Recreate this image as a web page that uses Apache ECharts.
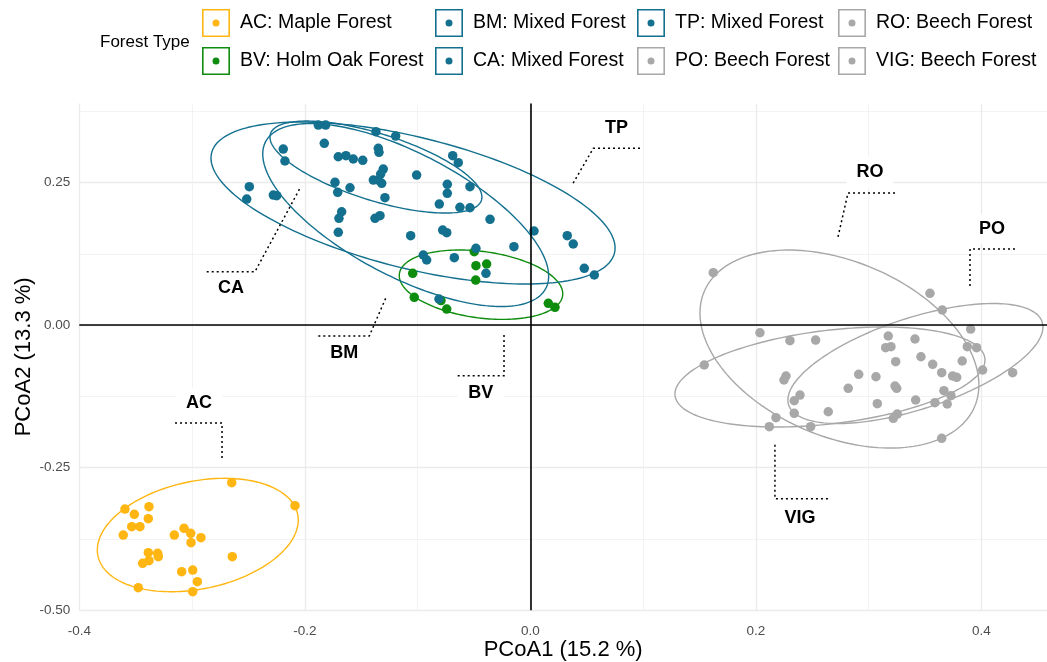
<!DOCTYPE html>
<html><head><meta charset="utf-8">
<script src="https://cdn.jsdelivr.net/npm/echarts@6/dist/echarts.min.js"></script>
<style>html,body{margin:0;padding:0;background:#fff}#c{width:1047px;height:662px}</style>
</head><body><div id="c"></div>
<script>
// ---------- data (PCoA1, PCoA2) ----------
const AC = [[-0.2648,-0.2763],[-0.2087,-0.3167],[-0.3595,-0.3225],[-0.3382,-0.3184],[-0.3512,-0.3318],[-0.3388,-0.3395],[-0.3535,-0.3535],[-0.3462,-0.3535],[-0.3610,-0.3681],[-0.3157,-0.3681],[-0.3071,-0.3563],[-0.3012,-0.3651],[-0.2921,-0.3728],[-0.3009,-0.3816],[-0.3388,-0.3991],[-0.3305,-0.4002],[-0.3299,-0.4061],[-0.3382,-0.4132],[-0.3438,-0.4177],[-0.2643,-0.4061],[-0.3092,-0.4325],[-0.2994,-0.4295],[-0.2953,-0.4500],[-0.3477,-0.4605],[-0.2994,-0.4675]];
const BV = [[-0.0497,0.1289],[-0.0482,0.1044],[-0.0387,0.1074],[-0.0484,0.0793],[-0.1043,0.0911],[-0.1029,0.0489],[-0.0792,0.0433],[-0.0741,0.0284],[0.0160,0.0384],[0.0219,0.0314]];
const CA = [[-0.1369,0.3395],[-0.1194,0.3319],[-0.1827,0.3191],[-0.1348,0.3104],[-0.1342,0.3033],[-0.1703,0.2956],[-0.1635,0.2974],[-0.1570,0.2916],[-0.1486,0.2893],[-0.0688,0.2974],[-0.0639,0.2851],[-0.1304,0.2740],[-0.1327,0.2653],[-0.1008,0.2635],[-0.1392,0.2547],[-0.1348,0.2547],[-0.1732,0.2507],[-0.0736,0.2472],[-0.0535,0.2430],[-0.0736,0.2314],[-0.0624,0.2068]];
const BM = [[-0.1880,0.3512],[-0.1815,0.3512],[-0.2191,0.3091],[-0.2176,0.2881],[-0.1318,0.2489],[-0.1599,0.2412],[-0.1708,0.2332],[-0.2279,0.2284],[-0.2249,0.2272],[-0.1289,0.2237],[-0.1673,0.1991],[-0.1697,0.1875],[-0.1377,0.1875],[-0.1333,0.1921],[-0.1703,0.1630],[-0.1061,0.1570],[-0.0482,0.1349],[-0.0949,0.1232],[-0.0919,0.1144],[-0.0674,0.1184],[-0.0393,0.0911],[-0.0810,0.0460]];
const TP = [[-0.2492,0.2430],[-0.2515,0.2214],[-0.0807,0.2126],[-0.0535,0.2061],[-0.0357,0.1858],[-0.0777,0.1670],[-0.0741,0.1623],[0.0033,0.1653],[0.0328,0.1570],[0.0381,0.1425],[-0.0145,0.1377],[0.0479,0.0998],[0.0568,0.0881]];
const RO = [[0.1623,0.0921],[0.3545,0.0560],[0.3654,0.0267],[0.3906,-0.0067],[0.3649,-0.1984],[0.2120,-0.1781],[0.2179,-0.1623],[0.3152,-0.0395],[0.3199,-0.0377],[0.3241,-0.0640],[0.2913,-0.0861],[0.2820,-0.1107],[0.3418,-0.1312],[0.3078,-0.1377],[0.3255,-0.1558],[0.3220,-0.1633]];
const PO = [[0.3876,-0.0377],[0.3959,-0.0395],[0.3831,-0.0628],[0.4012,-0.0786],[0.4278,-0.0833],[0.3569,-0.0686],[0.3465,-0.0553],[0.3649,-0.0833],[0.3746,-0.0891],[0.3782,-0.0914],[0.3669,-0.1149],[0.3731,-0.1237],[0.3698,-0.1382],[0.3589,-0.1360],[0.3412,-0.0242],[0.3175,-0.0189]];
const VIG = [[0.2037,-0.0132],[0.2303,-0.0272],[0.2531,-0.0260],[0.1543,-0.0698],[0.2268,-0.0891],[0.2250,-0.0961],[0.3066,-0.0904],[0.3235,-0.1067],[0.3250,-0.1107],[0.2392,-0.1225],[0.2341,-0.1325],[0.2341,-0.1546],[0.2643,-0.1518],[0.2487,-0.1781]];

// ellipse: [centre x, centre y, half-width, half-height, y-offset of rightmost point]
const ellipseAC  = [-0.2949,-0.3681,0.0891,0.0995, 0.0263];
const ellipseBV  = [-0.0437, 0.0711,0.0725,0.0609,-0.0160];
const ellipseCA  = [-0.1369, 0.2775,0.0940,0.0807,-0.0526];
const ellipseBM  = [-0.1105, 0.1933,0.1268,0.1605,-0.1070];
const ellipseTP  = [-0.1040, 0.2144,0.1792,0.1421,-0.0789];
const ellipseRO  = [ 0.2742,-0.0418,0.1237,0.1737,-0.0632];
const ellipsePO  = [ 0.3416,-0.0672,0.1131,0.1053, 0.0640];
const ellipseVIG = [ 0.2658,-0.0909,0.1375,0.0877, 0.0298];

const groupCodes  = ['AC','BV','BM','CA','TP','PO','RO','VIG'];
const groupLabels = ['AC: Maple Forest','BV: Holm Oak Forest','BM: Mixed Forest','CA: Mixed Forest','TP: Mixed Forest','PO: Beech Forest','RO: Beech Forest','VIG: Beech Forest'];
const groupPoints = [AC,BV,BM,CA,TP,PO,RO,VIG];
const groupEllipses = [ellipseAC,ellipseBV,ellipseBM,ellipseCA,ellipseTP,ellipsePO,ellipseRO,ellipseVIG];

// group labels with elbow leader lines
const annoNames = ['TP','CA','BM','BV','AC','RO','PO','VIG'];
const annoPos = [[0.0765,0.3454],[-0.2655,0.0647],[-0.1650,-0.0493],[-0.0440,-0.1184],[-0.2938,-0.1365],[0.3013,0.2688],[0.4095,0.1688],[0.2392,-0.3382]];
const annoSegments = [
  [[0.0973,0.3104],[0.0559,0.3104],[0.0376,0.2477]],
  [[-0.2870,0.0939],[-0.2442,0.0939],[-0.2043,0.2402]],
  [[-0.1880,-0.0189],[-0.1428,-0.0189],[-0.1274,0.0512]],
  [[-0.0644,-0.0886],[-0.0233,-0.0886],[-0.0233,-0.0172]],
  [[-0.3151,-0.1716],[-0.2734,-0.1716],[-0.2734,-0.2365]],
  [[0.3235,0.2320],[0.2818,0.2320],[0.2729,0.1547]],
  [[0.4299,0.1337],[0.3900,0.1337],[0.3900,0.0653]],
  [[0.2640,-0.3046],[0.2170,-0.3046],[0.2170,-0.2067]]
];

const xTickLabels = ['-0.4','-0.2','0.0','0.2','0.4'];
const yTickLabels = ['-0.50','-0.25','0.00','0.25'];

// ---------- styling ----------
const FONT = "'Liberation Sans', Arial, sans-serif";
const groupColors = ['#FFB612','#0E8C0E','#14708F','#14708F','#14708F','#A8A8A8','#A8A8A8','#A8A8A8'];
const KEY_ICON = 'path://M0,0H28V28H0Z M1.6,1.6V26.4H26.4V1.6Z M10.5,14a3.5,3.5 0 1,0 7,0a3.5,3.5 0 1,0 -7,0Z';

const chart = echarts.init(document.getElementById('c'), null, {renderer:'canvas'});

function ellipseRender(color){
  return function(params, api){
    const cx=api.value(0), cy=api.value(1), rx=api.value(2), ry=api.value(3), ky=api.value(4);
    const m = Math.sqrt(Math.max(ry*ry-ky*ky,0));
    const pts=[];
    const N=180;
    for(let i=0;i<=N;i++){
      const t=2*Math.PI*i/N;
      pts.push(api.coord([cx+rx*Math.cos(t), cy+ky*Math.cos(t)+m*Math.sin(t)]));
    }
    return {type:'polyline', shape:{points:pts}, style:{fill:null, stroke:color, lineWidth:1.4}};
  };
}

const series=[];
groupLabels.forEach((lab,i)=>{
  series.push({
    type:'scatter', name:lab, data:groupPoints[i], symbolSize:9.5, z:4,
    itemStyle:{color:groupColors[i], opacity:1}, emphasis:{disabled:true}
  });
});
groupLabels.forEach((lab,i)=>{
  series.push({
    type:'custom', name:lab, data:[groupEllipses[i]], z:3, silent:true,
    itemStyle:{color:groupColors[i]},
    renderItem: ellipseRender(groupColors[i])
  });
});
// zero reference lines
series.push({
  type:'line', data:[], silent:true, z:2,
  markLine:{silent:true, symbol:['none','none'], label:{show:false}, animation:false,
    lineStyle:{color:'#000', width:1.6, type:'solid'}, emphasis:{disabled:true},
    data:[{xAxis:0},{yAxis:0}]}
});
// labels
series.push({
  type:'custom', data:annoPos, z:5, silent:true,
  renderItem:function(params, api){
    const idx=params.dataIndex;
    const seg=annoSegments[idx].map(p=>api.coord(p));
    const c=api.coord([api.value(0),api.value(1)]);
    return {type:'group', children:[
      {type:'polyline', shape:{points:seg}, style:{fill:null, stroke:'#000', lineWidth:1.5, lineDash:[2,3]}},
      {type:'text', x:c[0], y:c[1], style:{text:annoNames[idx], fill:'#000', fontSize:18, fontWeight:'bold', fontFamily:FONT,
        align:'center', verticalAlign:'middle', backgroundColor:'#fff', padding:[6,10], borderRadius:3}}
    ]};
  }
});

function legendCol(left, names){
  return {left:left, top:9, orient:'vertical', itemGap:10, itemWidth:28, itemHeight:28, padding:0,
    selectedMode:false, icon:KEY_ICON,
    textStyle:{fontSize:19.5, color:'#000', fontFamily:FONT, padding:[0,0,0,5]},
    data:names.map(n=>({name:n, icon:KEY_ICON}))};
}

chart.setOption({
  animation:false,
  backgroundColor:'#fff',
  grid:{left:79.3, right:0, top:103.5, bottom:51.8, containLabel:false, outerBoundsMode:'none'},
  graphic:[{type:'text', left:100, top:34, style:{text:'Forest Type', fontSize:17, fill:'#000', fontFamily:FONT}}],
  legend:[
    legendCol(202,[groupLabels[0],groupLabels[1]]),
    legendCol(435,[groupLabels[2],groupLabels[3]]),
    legendCol(637,[groupLabels[4],groupLabels[5]]),
    legendCol(838,[groupLabels[6],groupLabels[7]])
  ],
  xAxis:{type:'value', min:-0.4, max:0.4583, interval:0.2,
    axisLine:{show:false, onZero:false}, axisTick:{show:false},
    axisLabel:{color:'#4D4D4D', fontSize:13.5, fontFamily:FONT, margin:14, showMaxLabel:false,
      formatter:v=>{const k=Math.round((v+0.4)/0.2); return xTickLabels[k]||'';}},
    splitLine:{show:true, showMaxLine:false, lineStyle:{color:'#EBEBEB', width:1.3}},
    minorTick:{show:false, splitNumber:2},
    minorSplitLine:{show:true, lineStyle:{color:'#F0F0F0', width:0.8}},
    name:'PCoA1 (15.2 %)', nameLocation:'middle', nameGap:29, nameMoveOverlap:false,
    nameTextStyle:{fontSize:22, color:'#000', fontFamily:FONT}},
  yAxis:{type:'value', min:-0.5, max:0.389, interval:0.25,
    axisLine:{show:false, onZero:false}, axisTick:{show:false},
    axisLabel:{color:'#4D4D4D', fontSize:13.5, fontFamily:FONT, margin:9, showMaxLabel:false,
      formatter:v=>{const k=Math.round((v+0.5)/0.25); return yTickLabels[k]||'';}},
    splitLine:{show:true, showMaxLine:false, lineStyle:{color:'#EBEBEB', width:1.3}},
    minorTick:{show:false, splitNumber:2},
    minorSplitLine:{show:true, lineStyle:{color:'#F0F0F0', width:0.8}},
    name:'PCoA2 (13.3 %)', nameLocation:'middle', nameGap:44, nameMoveOverlap:false,
    nameTextStyle:{fontSize:22, color:'#000', fontFamily:FONT}},
  series:series
});
</script></body></html>
